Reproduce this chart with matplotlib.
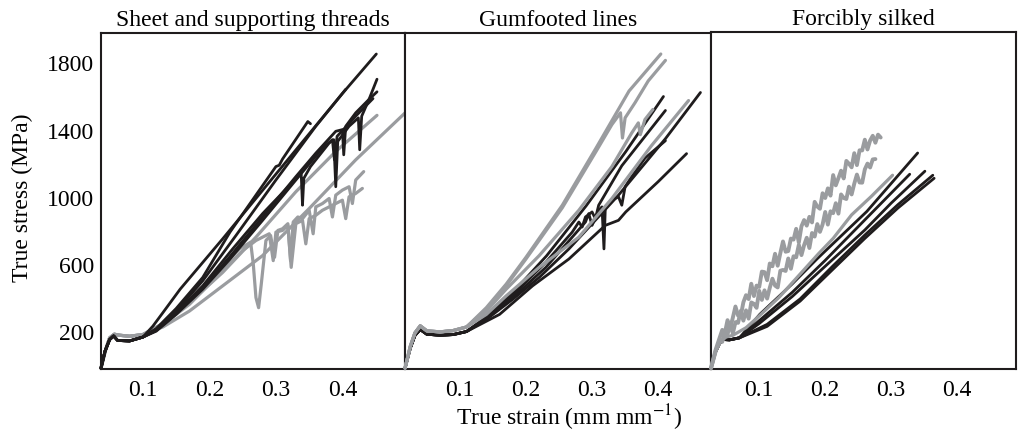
import matplotlib
matplotlib.use("Agg")
import matplotlib.pyplot as plt

plt.rcParams['font.family'] = ['Liberation Serif', 'DejaVu Serif']
plt.rcParams['mathtext.fontset'] = 'stix'
plt.rcParams['font.size'] = 17

BLACK = '#1f1c1d'
GREY = '#9a9c9f'

##############################################################################
# Data: (true strain, true stress in MPa)

titles = ['Sheet and supporting threads', 'Gumfooted lines', 'Forcibly silked']
x_ticks = [0.1, 0.2, 0.3, 0.4]
y_ticks = [200, 600, 1000, 1400, 1800]
x_limits = [(0.037, 0.494), (0.017, 0.480), (0.027, 0.489)]
y_limits = (-25, 1975)

# Sheet and supporting threads
sheet_start_k = [(0.037, -20), (0.043, 80), (0.050, 150), (0.056, 172), (0.062, 145),
                 (0.080, 142), (0.100, 165)]
sheet_start_g = [(0.037, -20), (0.044, 90), (0.050, 160), (0.057, 182), (0.065, 176),
                 (0.080, 170), (0.100, 180)]
sheet_black = [
    [(0.115, 230), (0.130, 310), (0.156, 450), (0.220, 750), (0.300, 1135), (0.400, 1615),
     (0.451, 1850)],
    [(0.120, 215), (0.150, 335), (0.190, 520), (0.231, 790), (0.300, 1180), (0.305, 1188),
     (0.310, 1225), (0.348, 1448), (0.352, 1435)],
    [(0.120, 212), (0.150, 320), (0.190, 500), (0.240, 770), (0.300, 1100), (0.345, 1340),
     (0.360, 1420), (0.405, 1640)],
    [(0.120, 205), (0.150, 310), (0.190, 470), (0.235, 690), (0.280, 900), (0.338, 1140),
     (0.340, 950), (0.342, 1110), (0.352, 1180), (0.380, 1320), (0.387, 1340), (0.390, 1060),
     (0.393, 1330), (0.410, 1420), (0.424, 1470), (0.426, 1280), (0.429, 1480), (0.440, 1580),
     (0.452, 1700)],
    [(0.120, 205), (0.150, 305), (0.190, 460), (0.230, 640), (0.280, 880), (0.330, 1120),
     (0.360, 1260), (0.390, 1390), (0.400, 1400), (0.402, 1250), (0.405, 1420), (0.420, 1500),
     (0.440, 1580), (0.452, 1625)],
    [(0.120, 200), (0.150, 300), (0.190, 450), (0.230, 625), (0.280, 860), (0.330, 1100),
     (0.370, 1290), (0.385, 1340), (0.388, 1220), (0.392, 1360), (0.420, 1480), (0.446, 1585)],
]
sheet_grey = [
    [(0.130, 225), (0.170, 320), (0.220, 470), (0.280, 650), (0.350, 930), (0.420, 1220),
     (0.497, 1510)],
    [(0.130, 245), (0.170, 370), (0.220, 550), (0.270, 760), (0.330, 1030), (0.390, 1270),
     (0.452, 1485)],
    [(0.130, 245), (0.170, 370), (0.210, 540), (0.245, 690), (0.262, 730), (0.266, 600),
     (0.270, 400), (0.274, 340), (0.278, 480), (0.285, 740), (0.292, 770), (0.298, 640),
     (0.303, 800), (0.310, 810), (0.318, 840), (0.322, 620), (0.326, 850), (0.333, 880),
     (0.340, 870), (0.350, 920), (0.356, 780), (0.360, 940), (0.370, 960), (0.380, 990),
     (0.385, 880), (0.390, 1010), (0.400, 1040), (0.410, 1060), (0.415, 960), (0.420, 1100),
     (0.432, 1150)],
    [(0.130, 240), (0.170, 360), (0.210, 520), (0.250, 680), (0.270, 740), (0.280, 760),
     (0.290, 780), (0.296, 620), (0.300, 790), (0.310, 800), (0.318, 830), (0.323, 580),
     (0.330, 840), (0.340, 860), (0.345, 720), (0.350, 870), (0.360, 890), (0.370, 920),
     (0.380, 940), (0.390, 960), (0.400, 980), (0.405, 870), (0.410, 1000), (0.420, 1020),
     (0.430, 1050)],
]

# Gumfooted lines
gum_start_k = [(0.017, -20), (0.025, 100), (0.032, 175), (0.040, 210), (0.050, 182),
               (0.070, 176), (0.090, 180), (0.110, 198)]
gum_start_g = [(0.017, -20), (0.025, 110), (0.032, 190), (0.040, 232), (0.050, 202),
               (0.070, 196), (0.090, 204), (0.110, 225)]
gum_black = [
    [(0.140, 270), (0.180, 390), (0.220, 520), (0.265, 690), (0.340, 1010), (0.411, 1346),
     (0.464, 1621)],
    [(0.140, 285), (0.180, 430), (0.231, 648), (0.291, 946), (0.351, 1269), (0.408, 1597)],
    [(0.140, 280), (0.180, 415), (0.230, 610), (0.270, 790), (0.280, 850), (0.285, 820),
     (0.290, 880), (0.300, 910), (0.305, 870), (0.310, 950), (0.345, 1185), (0.411, 1514)],
    [(0.140, 275), (0.180, 400), (0.230, 580), (0.270, 760), (0.290, 850), (0.295, 900),
     (0.300, 830), (0.310, 920), (0.315, 940), (0.318, 690), (0.320, 930), (0.330, 980),
     (0.340, 1000), (0.345, 950), (0.350, 1060), (0.360, 1120), (0.380, 1230), (0.411, 1334)],
    [(0.160, 300), (0.210, 470), (0.265, 630), (0.320, 830), (0.340, 860), (0.351, 910),
     (0.400, 1090), (0.443, 1257)],
]
gum_grey = [
    [(0.140, 340), (0.170, 480), (0.200, 640), (0.255, 950), (0.306, 1290), (0.356, 1630),
     (0.380, 1740), (0.404, 1850)],
    [(0.140, 330), (0.170, 470), (0.200, 630), (0.255, 935), (0.306, 1270), (0.330, 1430),
     (0.343, 1500), (0.346, 1350), (0.350, 1470), (0.365, 1560), (0.385, 1690), (0.411, 1812)],
    [(0.140, 300), (0.170, 410), (0.220, 580), (0.280, 760), (0.330, 990), (0.390, 1305),
     (0.446, 1573)],
    [(0.140, 320), (0.170, 450), (0.220, 650), (0.280, 920), (0.330, 1180), (0.360, 1380),
     (0.370, 1440), (0.373, 1370), (0.380, 1460), (0.392, 1520)],
]

# Forcibly silked
forced_start_k = [(0.027, -20), (0.033, 70), (0.040, 128), (0.046, 150), (0.055, 148),
                  (0.070, 160)]
forced_black = [
    [(0.101, 300), (0.150, 480), (0.188, 630), (0.263, 910), (0.340, 1257)],
    [(0.100, 262), (0.150, 430), (0.200, 620), (0.260, 860), (0.328, 1131)],
    [(0.100, 245), (0.150, 405), (0.200, 585), (0.260, 800), (0.300, 960), (0.351, 1149)],
    [(0.112, 240), (0.162, 391), (0.212, 588), (0.260, 770), (0.310, 950), (0.363, 1125)],
    [(0.112, 228), (0.162, 378), (0.212, 568), (0.260, 750), (0.310, 930), (0.365, 1107)],
]
forced_grey = [
    [(0.027, -20), (0.034, 90), (0.040, 160), (0.044, 207), (0.048, 189), (0.052, 265),
     (0.056, 217), (0.060, 279), (0.064, 346), (0.068, 292), (0.072, 289), (0.076, 371),
     (0.080, 413), (0.084, 390), (0.088, 481), (0.092, 408), (0.096, 470), (0.100, 462),
     (0.104, 553), (0.108, 550), (0.112, 502), (0.116, 601), (0.120, 585), (0.124, 659),
     (0.128, 588), (0.132, 663), (0.136, 732), (0.140, 671), (0.144, 675), (0.148, 749),
     (0.152, 743), (0.156, 807), (0.160, 726), (0.164, 822), (0.168, 859), (0.172, 826),
     (0.176, 878), (0.180, 845), (0.184, 967), (0.188, 939), (0.192, 926), (0.196, 1018),
     (0.200, 990), (0.204, 1047), (0.208, 1004), (0.212, 1126), (0.216, 1065), (0.220, 1108),
     (0.224, 1152), (0.228, 1106), (0.232, 1210), (0.236, 1193), (0.240, 1172), (0.244, 1256),
     (0.248, 1185), (0.252, 1273), (0.256, 1272), (0.260, 1336), (0.264, 1278), (0.268, 1331),
     (0.272, 1359), (0.276, 1318), (0.280, 1366), (0.284, 1349)],
    [(0.027, -20), (0.034, 80), (0.040, 140), (0.044, 136), (0.048, 203), (0.052, 179),
     (0.056, 250), (0.060, 186), (0.064, 253), (0.068, 249), (0.072, 320), (0.076, 262),
     (0.080, 323), (0.084, 274), (0.088, 370), (0.092, 362), (0.096, 338), (0.100, 439),
     (0.104, 385), (0.108, 442), (0.112, 393), (0.116, 457), (0.120, 511), (0.124, 470),
     (0.128, 459), (0.132, 558), (0.136, 563), (0.140, 557), (0.144, 631), (0.148, 570),
     (0.152, 644), (0.156, 638), (0.160, 712), (0.164, 651), (0.168, 710), (0.172, 754),
     (0.176, 693), (0.180, 782), (0.184, 761), (0.188, 835), (0.192, 789), (0.196, 833),
     (0.200, 907), (0.204, 832), (0.208, 911), (0.212, 900), (0.216, 959), (0.220, 897),
     (0.224, 1011), (0.228, 990), (0.232, 984), (0.236, 1057), (0.240, 1011), (0.244, 1075),
     (0.248, 1129), (0.252, 1082), (0.256, 1081), (0.260, 1160), (0.264, 1194), (0.268, 1171),
     (0.272, 1219), (0.276, 1221)],
    [(0.027, -20), (0.035, 90), (0.042, 140), (0.050, 165), (0.060, 175), (0.080, 220),
     (0.100, 290), (0.130, 400), (0.160, 530), (0.190, 660), (0.212, 750), (0.240, 890),
     (0.270, 1000), (0.302, 1125)],
]

##############################################################################
# Plot

fig = plt.figure(figsize=(10.21, 4.35), dpi=100)
rects = [[0.0989, 0.1494, 0.2977, 0.7724],
         [0.3967, 0.1494, 0.2997, 0.7724],
         [0.6964, 0.1494, 0.2987, 0.7747]]

panels = [(sheet_start_k, sheet_start_g, sheet_black, sheet_grey, False),
          (gum_start_k, gum_start_g, gum_black, gum_grey, True),
          (forced_start_k, None, forced_black, forced_grey, True)]


def draw(ax, pts, col, lw, z):
    xs = [p[0] for p in pts]
    ys = [p[1] for p in pts]
    ax.plot(xs, ys, color=col, lw=lw, zorder=z, clip_on=False,
            solid_joinstyle='round', solid_capstyle='round')


for i, (ax_rect, title, xl, panel) in enumerate(zip(rects, titles, x_limits, panels)):
    start_k, start_g, blacks, greys, grey_on_top = panel
    ax = fig.add_axes(ax_rect)
    zk, zg = (2, 3) if grey_on_top else (3, 2)
    for c in greys:
        if start_g is None:
            draw(ax, c, GREY, 2.8 if len(c) > 20 else 2.3, zg)
        else:
            draw(ax, start_g + c, GREY, 2.3, zg)
    for c in blacks:
        draw(ax, start_k + c, BLACK, 2.0, zk)

    ax.set_xlim(*xl)
    ax.set_ylim(*y_limits)
    ax.set_xticks(x_ticks)
    ax.set_xticklabels(['%.1f' % t for t in x_ticks])
    if i == 0:
        ax.set_yticks(y_ticks)
    else:
        ax.set_yticks([])
    ax.tick_params(length=0, labelsize=17)
    ax.tick_params(axis='x', pad=7)
    ax.tick_params(axis='y', pad=5)
    for s in ax.spines.values():
        s.set_linewidth(1.5)
        s.set_color(BLACK)
    ax.set_title(title, fontsize=17, pad=6)

fig.text(22 / 1021, 0.545, 'True stress (MPa)', rotation=90, ha='center', va='center',
         fontsize=17)
fig.text(569 / 1021, 0.039, 'True strain (mm mm$^{-1}$)', ha='center', va='center',
         fontsize=17)

fig.savefig('out.png', dpi=100)
